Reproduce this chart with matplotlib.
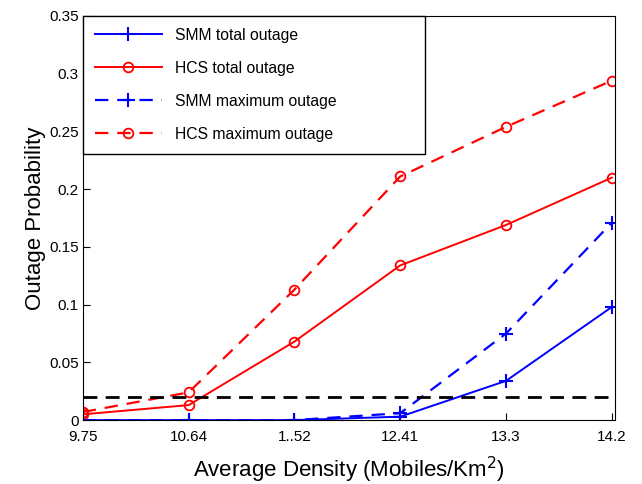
import numpy as np
import matplotlib
matplotlib.use('Agg')
import matplotlib.pyplot as plt

plt.rcParams['font.family'] = ['Liberation Sans', 'DejaVu Sans']

# Data
tick_labels = ['9.75', '10.64', '1..52', '12.41', '13.3', '14.2']
smm_total = [0.0, 0.0, 0.0, 0.003, 0.034, 0.098]
hcs_total = [0.005, 0.013, 0.068, 0.134, 0.169, 0.210]
smm_max = [0.0, 0.0, 0.0, 0.006, 0.075, 0.171]
hcs_max = [0.007, 0.024, 0.113, 0.211, 0.254, 0.294]
threshold = 0.02

x = np.arange(len(tick_labels))

fig = plt.figure(figsize=(6.42, 4.84), dpi=100)
ax = fig.add_axes([0.129, 0.132, 0.829, 0.835])

ax.plot(x, smm_total, color='blue', marker='+', markersize=10, mew=1.5, lw=1.4,
        label='SMM total outage')
ax.plot(x, hcs_total, color='red', marker='o', markersize=7, mfc='none', mew=1.3, lw=1.4,
        label='HCS total outage')
ax.plot(x, smm_max, color='blue', marker='+', markersize=10, mew=1.5, lw=1.6,
        ls=(0, (6, 4)), label='SMM maximum outage')
ax.plot(x, hcs_max, color='red', marker='o', markersize=7, mfc='none', mew=1.3, lw=1.6,
        ls=(0, (6, 4)), label='HCS maximum outage')
ax.axhline(threshold, color='black', lw=2, ls=(0, (5, 3)))

ax.set_xlim(0, 5.03)
ax.set_ylim(0, 0.35)
ax.set_xticks(x)
ax.set_xticklabels(tick_labels)
ax.set_yticks(np.arange(0, 0.351, 0.05))
ax.set_yticklabels(['0', '0.05', '0.1', '0.15', '0.2', '0.25', '0.3', '0.35'])
ax.tick_params(direction='in', labelsize=11, length=5)
ax.tick_params(axis='x', pad=7)
ax.tick_params(axis='y', pad=3)

ax.set_xlabel('Average Density (Mobiles/Km$^2$)', fontsize=16, labelpad=8)
ax.set_ylabel('Outage Probability', fontsize=16, labelpad=2)

leg = ax.legend(loc='upper left', bbox_to_anchor=(0, 0, 0.643, 1.0), mode='expand',
                fontsize=11.3, fancybox=False, edgecolor='black',
                framealpha=1, borderpad=0.75, labelspacing=1.15, handlelength=4.3,
                borderaxespad=0.0)
leg.get_frame().set_linewidth(1.0)

fig.savefig('out.png', dpi=100)
